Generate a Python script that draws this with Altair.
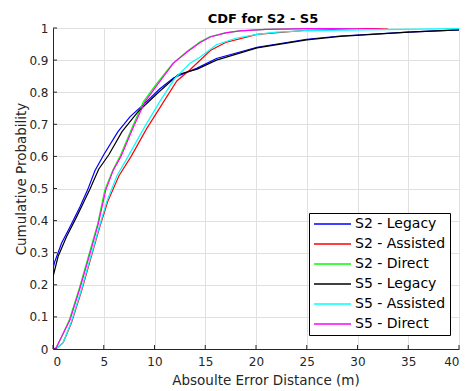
import altair as alt
import pandas as pd

# ---- data ----
series_names = ["S2 - Legacy", "S2 - Assisted", "S2 - Direct",
                "S5 - Legacy", "S5 - Assisted", "S5 - Direct"]
series_colors = ["#0000ff", "#ff0000", "#00ff00", "#000000", "#00ffff", "#ff00ff"]

s2_legacy_x = [0, 0, 0.15, 0.85, 1.67, 2.66, 3.4, 4.14, 5.0, 6.4, 7.6, 9.2, 10.5, 11.9, 14.2, 16.1, 20.1, 25, 28.3, 35, 40]
s2_legacy_p = [0, 0.25, 0.27, 0.33, 0.38, 0.443, 0.495, 0.556, 0.605, 0.677, 0.724, 0.77, 0.81, 0.845, 0.875, 0.905, 0.94, 0.965, 0.975, 0.987, 0.994]

s2_assisted_x = [0, 0.4, 1.0, 1.8, 2.8, 3.7, 4.6, 5.4, 6.5, 7.7, 9.2, 10.8, 12.2, 13.5, 15.5, 17.0, 20.1, 25, 33]
s2_assisted_p = [0, 0.003, 0.02, 0.08, 0.18, 0.28, 0.38, 0.46, 0.54, 0.6, 0.685, 0.765, 0.835, 0.87, 0.93, 0.955, 0.98, 0.993, 1.0]

s2_direct_x = [0, 0.3, 0.85, 1.6, 2.6, 3.5, 4.4, 5.1, 5.9, 6.6, 7.8, 8.9, 10.1, 11.8, 13.2, 14.5, 15.5, 17.0, 18.4, 21, 25, 30]
s2_direct_p = [0, 0.003, 0.038, 0.09, 0.19, 0.29, 0.39, 0.495, 0.558, 0.6, 0.69, 0.77, 0.822, 0.89, 0.927, 0.957, 0.973, 0.985, 0.991, 0.996, 0.998, 1.0]

s5_legacy_x = [0, 0, 0.5, 1.33, 2.3, 3.6, 4.5, 5.5, 6.8, 8.4, 10.4, 12.35, 14.2, 16.1, 20.1, 25, 28.3, 35, 40]
s5_legacy_p = [0, 0.225, 0.288, 0.35, 0.41, 0.495, 0.56, 0.605, 0.677, 0.74, 0.80, 0.855, 0.872, 0.9, 0.938, 0.963, 0.974, 0.987, 0.994]

s5_assisted_x = [0, 0.4, 1.0, 1.75, 2.75, 3.65, 4.55, 5.3, 6.3, 7.4, 8.9, 10.5, 12.0, 13.5, 14.5, 16.1, 18.0, 20.1, 22.0, 25, 40]
s5_assisted_p = [0, 0.003, 0.02, 0.08, 0.18, 0.28, 0.38, 0.46, 0.54, 0.6, 0.685, 0.77, 0.843, 0.89, 0.91, 0.948, 0.968, 0.98, 0.987, 0.992, 0.998]

s5_direct_x = [0, 0.3, 0.85, 1.67, 2.66, 3.58, 4.46, 5.2, 5.95, 6.7, 7.9, 9.06, 10.2, 11.85, 13.2, 14.5, 15.5, 17.0, 18.4, 21, 25, 32.4]
s5_direct_p = [0, 0.003, 0.038, 0.09, 0.19, 0.29, 0.39, 0.495, 0.558, 0.6, 0.69, 0.77, 0.82, 0.89, 0.925, 0.955, 0.972, 0.985, 0.991, 0.996, 0.998, 1.0]

x_ticks = [0, 5, 10, 15, 20, 25, 30, 35, 40]
y_ticks = [0, 0.1, 0.2, 0.3, 0.4, 0.5, 0.6, 0.7, 0.8, 0.9, 1.0]

# ---- build long table ----
all_x = [s2_legacy_x, s2_assisted_x, s2_direct_x, s5_legacy_x, s5_assisted_x, s5_direct_x]
all_p = [s2_legacy_p, s2_assisted_p, s2_direct_p, s5_legacy_p, s5_assisted_p, s5_direct_p]
rows = []
for name, xs, ps in zip(series_names, all_x, all_p):
    for i, (xv, pv) in enumerate(zip(xs, ps)):
        rows.append({"series": name, "x": xv, "p": pv, "idx": i})
df = pd.DataFrame(rows)

FONT = "DejaVu Sans"
W, H = 406, 321
AX = "#262626"

xscale = alt.Scale(domain=[0, 40], nice=False, zero=False)
yscale = alt.Scale(domain=[0, 1], nice=False, zero=False)

common_axis = dict(ticks=False, tickSize=0, labelFont=FONT, labelFontSize=12, labelColor=AX,
                   titleFont=FONT, titleFontSize=13.5, titleColor=AX, titleFontWeight="normal",
                   gridColor="#e0e0e0", gridWidth=1, gridOpacity=1, grid=True,
                   domainColor=AX, domainWidth=1, labelOverlap=False)

x_axis = alt.Axis(values=x_ticks, format="d", title="Absoulte Error Distance (m)",
                  labelPadding=7, titleX=212.5, titleY=35.5, titleBaseline="alphabetic",
                  **common_axis)
y_axis = alt.Axis(values=y_ticks, format=".1~f", title="Cumulative Probability",
                  labelPadding=5, titleX=-28, titleY=150.5, titleBaseline="alphabetic",
                  titleAngle=-90, **common_axis)

lines = alt.Chart(df).mark_line(strokeWidth=1.2, clip=True).encode(
    x=alt.X("x:Q", scale=xscale, axis=x_axis),
    y=alt.Y("p:Q", scale=yscale, axis=y_axis),
    color=alt.Color("series:N",
                    scale=alt.Scale(domain=series_names, range=series_colors),
                    legend=alt.Legend(orient="none", legendX=256, legendY=185, title=None,
                                      symbolType="stroke", symbolSize=1369, symbolStrokeWidth=1.5,
                                      clipHeight=14, rowPadding=6, padding=4,
                                      labelFontSize=14, labelFont=FONT, labelColor="black",
                                      labelOffset=3, symbolOffset=0,
                                      strokeColor="black", fillColor="white")),
    order=alt.Order("idx:Q"),
)

xt = pd.DataFrame({"t": x_ticks})
yt = pd.DataFrame({"t": y_ticks})
xtick_marks = alt.Chart(xt).mark_rule(color=AX, strokeWidth=1).encode(
    x=alt.X("t:Q", scale=xscale, axis=x_axis), y=alt.value(H), y2=alt.value(H - 4))
ytick_marks = alt.Chart(yt).mark_rule(color=AX, strokeWidth=1).encode(
    y=alt.Y("t:Q", scale=yscale, axis=y_axis), x=alt.value(0), x2=alt.value(4))

chart = alt.layer(lines, xtick_marks, ytick_marks).properties(
    width=W, height=H,
    title=alt.TitleParams("CDF for S2 - S5", font=FONT, fontSize=13, fontWeight="bold",
                          color="black", anchor="middle", dx=7, dy=18, offset=4,
                          baseline="alphabetic"),
    autosize=alt.AutoSizeParams(type="none"),
    padding={"left": 45, "top": 20, "right": 1, "bottom": 45},
).configure_view(stroke=None).configure(background="white")

chart.save("out.html", embed_options={"renderer": "svg", "actions": False})
